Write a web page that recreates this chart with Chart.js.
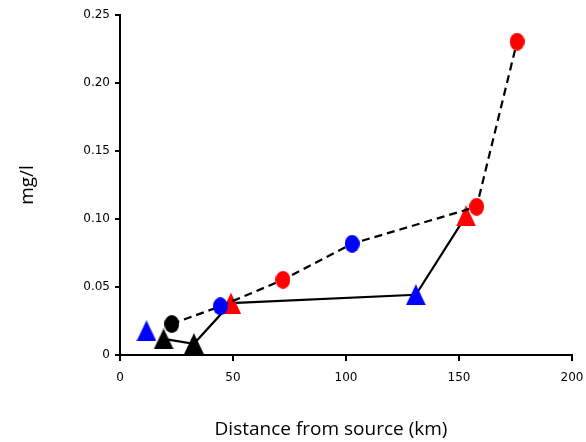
<!DOCTYPE html>
<html>
<head>
<meta charset="utf-8">
<script src="https://cdn.jsdelivr.net/npm/chart.js@4.4.1/dist/chart.umd.min.js"></script>
<style>
html,body{margin:0;padding:0;background:#fff;}
#wrap{width:586px;height:442px;position:relative;}
</style>
</head>
<body>
<div id="wrap"><canvas id="c" width="586" height="442"></canvas></div>
<script>
// Circle series (dashed line)
const circleX = [22.9, 44.4, 72.1, 102.7, 157.8, 175.7];
const circleY = [0.0228, 0.0358, 0.0553, 0.0818, 0.109, 0.2304];
const circleColors = ['black', 'blue', 'red', 'blue', 'red', 'red'];

// Triangle series (solid line)
const triX = [19.3, 32.7, 49.1, 130.9, 153.1];
const triY = [0.0118, 0.0083, 0.0381, 0.0443, 0.1023];
const triColors = ['black', 'black', 'red', 'blue', 'red'];

// Unconnected triangle
const loneTriX = [11.7];
const loneTriY = [0.0178];
const loneTriColors = ['blue'];

const xTicks = [0, 50, 100, 150, 200];
const yTicks = [0, 0.05, 0.10, 0.15, 0.20, 0.25];
const yTickLabels = ['0', '0.05', '0.10', '0.15', '0.20', '0.25'];

const xTitle = 'Distance from source (km)';
const yTitle = 'mg/l';

const colorMap = {black:'#000000', blue:'#0000FF', red:'#FF0000'};

function ellipseMarker(col){
  const c = document.createElement('canvas');
  c.width = 15; c.height = 18;
  const g = c.getContext('2d');
  g.fillStyle = colorMap[col];
  g.beginPath();
  g.ellipse(7.5, 9, 7.5, 9, 0, 0, Math.PI*2);
  g.fill();
  return c;
}
function triMarker(col){
  const c = document.createElement('canvas');
  c.width = 20; c.height = 21;
  const g = c.getContext('2d');
  g.fillStyle = colorMap[col];
  g.beginPath();
  g.moveTo(10, 0);
  g.lineTo(20, 21);
  g.lineTo(0, 21);
  g.closePath();
  g.fill();
  return c;
}
const ellipseCache = {}, triCache = {};
['black','blue','red'].forEach(k => { ellipseCache[k] = ellipseMarker(k); triCache[k] = triMarker(k); });

const toPts = (xs, ys) => xs.map((x, i) => ({x: x, y: ys[i]}));

// x-axis title, placed slightly left of the plot centre as in the original
const xTitlePlugin = {
  id: 'xTitlePlugin',
  afterDraw(chart) {
    const ctx = chart.ctx;
    const area = chart.chartArea;
    ctx.save();
    ctx.fillStyle = '#000';
    ctx.font = '19px "Open Sans"';
    ctx.textAlign = 'center';
    ctx.textBaseline = 'alphabetic';
    ctx.fillText(xTitle, (area.left + area.right) / 2 - 15, 435);
    ctx.restore();
  }
};

new Chart(document.getElementById('c'), {
  type: 'scatter',
  data: {
    datasets: [
      {
        data: toPts(circleX, circleY),
        showLine: true,
        borderColor: '#000',
        borderWidth: 2.2,
        borderDash: [8, 5],
        pointStyle: circleColors.map(c => ellipseCache[c]),
        pointBackgroundColor: circleColors.map(c => colorMap[c]),
        pointBorderWidth: 0,
        pointRadius: 8,
        order: 0
      },
      {
        data: toPts(triX, triY),
        showLine: true,
        borderColor: '#000',
        borderWidth: 2.2,
        pointStyle: triColors.map(c => triCache[c]),
        pointBackgroundColor: triColors.map(c => colorMap[c]),
        pointBorderWidth: 0,
        pointRadius: 10,
        order: 1
      },
      {
        data: toPts(loneTriX, loneTriY),
        showLine: false,
        pointStyle: loneTriColors.map(c => triCache[c]),
        pointBackgroundColor: loneTriColors.map(c => colorMap[c]),
        pointBorderWidth: 0,
        pointRadius: 10,
        order: 2
      }
    ]
  },
  options: {
    responsive: false,
    animation: false,
    events: [],
    layout: {padding: {left: 0, right: 14, top: 15, bottom: 0}},
    plugins: {legend: {display: false}, tooltip: {enabled: false}},
    scales: {
      x: {
        type: 'linear',
        min: 0, max: 200,
        afterBuildTicks: s => { s.ticks = xTicks.map(v => ({value: v})); },
        afterFit: s => { s.height = 87; s.paddingLeft = 0; s.paddingRight = 0; },
        grid: {drawOnChartArea: false, drawTicks: true, tickLength: 6, color: '#000', lineWidth: 2},
        border: {display: true, color: '#000', width: 2},
        ticks: {color: '#000', font: {family: 'DejaVu Sans', size: 12}, padding: 10, maxRotation: 0},
        title: {display: false}
      },
      y: {
        type: 'linear',
        min: 0, max: 0.25,
        afterBuildTicks: s => { s.ticks = yTicks.map(v => ({value: v})); },
        afterFit: s => { s.width = 120; s.paddingTop = 0; s.paddingBottom = 0; },
        grid: {drawOnChartArea: false, drawTicks: true, tickLength: 5, color: '#000', lineWidth: 2},
        border: {display: true, color: '#000', width: 2},
        ticks: {color: '#000', font: {family: 'DejaVu Sans', size: 12}, padding: 5,
                callback: (v) => { const i = yTicks.findIndex(t => Math.abs(t - v) < 1e-9); return i >= 0 ? yTickLabels[i] : ''; }},
        title: {display: true, text: yTitle, color: '#000',
                font: {family: 'Open Sans', size: 19}, padding: {top: 16, bottom: 0}}
      }
    }
  },
  plugins: [xTitlePlugin]
});
</script>
</body>
</html>
